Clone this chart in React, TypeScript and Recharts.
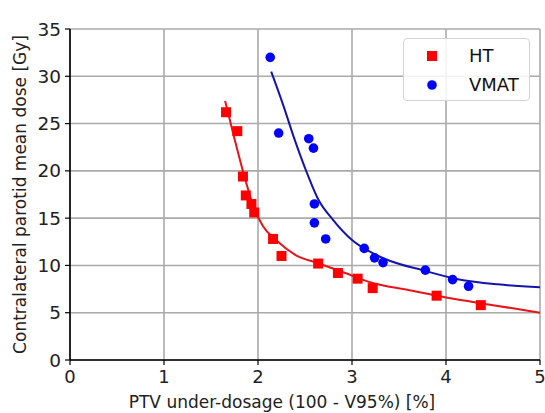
import { ComposedChart, Scatter, Line, XAxis, YAxis, CartesianGrid, Legend } from "recharts";

// measured points
const htX = [1.66, 1.78, 1.84, 1.87, 1.93, 1.96, 2.16, 2.25, 2.64, 2.85, 3.06, 3.22, 3.9, 4.37];
const htY = [26.2, 24.2, 19.4, 17.4, 16.5, 15.6, 12.8, 11.0, 10.2, 9.2, 8.6, 7.6, 6.8, 5.8];
const vmatX = [2.13, 2.22, 2.54, 2.59, 2.6, 2.6, 2.72, 3.13, 3.24, 3.33, 3.78, 4.07, 4.24];
const vmatY = [32.0, 24.0, 23.4, 22.4, 16.5, 14.5, 12.8, 11.8, 10.8, 10.3, 9.5, 8.5, 7.8];

// fitted curves
const htFitX = [1.65, 1.75, 1.85, 1.95, 2.05, 2.2, 2.4, 2.65, 2.9, 3.2, 3.6, 4.0, 4.5, 5.0];
const htFitY = [27.4, 23.4, 19.6, 16.3, 14.2, 12.6, 11.1, 10.2, 9.3, 8.2, 7.4, 6.6, 5.8, 5.0];
const vmatFitX = [2.14, 2.27, 2.39, 2.52, 2.64, 2.8, 3.0, 3.2, 3.4, 3.75, 4.1, 4.55, 5.0];
const vmatFitY = [30.5, 26.9, 23.3, 19.8, 17.0, 14.8, 12.7, 11.4, 10.5, 9.5, 8.6, 8.0, 7.7];

const xTicks = [0, 1, 2, 3, 4, 5];
const yTicks = [0, 5, 10, 15, 20, 25, 30, 35];
const xMinor = [0.2, 0.4, 0.6, 0.8, 1.2, 1.4, 1.6, 1.8, 2.2, 2.4, 2.6, 2.8, 3.2, 3.4, 3.6, 3.8, 4.2, 4.4, 4.6, 4.8];
const yMinor = [1, 2, 3, 4, 6, 7, 8, 9, 11, 12, 13, 14, 16, 17, 18, 19, 21, 22, 23, 24, 26, 27, 28, 29, 31, 32, 33, 34];

const zip = (xs: number[], ys: number[]) => xs.map((x, i) => ({ x, y: ys[i] }));
const htData = zip(htX, htY);
const vmatData = zip(vmatX, vmatY);
const htFit = zip(htFitX, htFitY);
const vmatFit = zip(vmatFitX, vmatFitY);

const FONT = "DejaVu Sans";

const Square = (p: any) => <rect x={p.cx - 5} y={p.cy - 5} width={10} height={10} fill="#ff0000" />;
const Dot = (p: any) => <circle cx={p.cx} cy={p.cy} r={4.8} fill="#0000ff" />;
const NoLabel = () => <g />;

const renderLegend = (props: any) => {
  const items = (props.payload || []).filter((e: any) => e.value === "HT" || e.value === "VMAT");
  return (
    <div
      style={{
        width: 127,
        height: 63,
        boxSizing: "border-box",
        border: "1px solid #d4d4d4",
        borderRadius: 4,
        background: "rgba(255,255,255,0.85)",
        fontFamily: FONT,
        fontSize: 18,
        color: "#111",
        paddingTop: 2,
      }}
    >
      {items.map((e: any) => (
        <div key={e.value} style={{ display: "flex", alignItems: "center", height: 29 }}>
          <svg width={65} height={29}>
            {e.value === "HT" ? (
              <rect x={23} y={10} width={10} height={10} fill="#ff0000" />
            ) : (
              <circle cx={28} cy={15} r={4.8} fill="#0000ff" />
            )}
          </svg>
          <span>{e.value}</span>
        </div>
      ))}
    </div>
  );
};

export default function App() {
  return (
    <div style={{ position: "absolute", left: 0, top: 0, background: "#fff" }}>
      <ComposedChart
        width={545}
        height={413}
        margin={{ top: 29, right: 5, bottom: 0, left: 0 }}
        style={{ fontFamily: FONT }}
      >
        <CartesianGrid stroke="#aaaaaa" strokeWidth={1.6} />
        <XAxis
          xAxisId="minor"
          type="number"
          domain={[0, 5]}
          ticks={xMinor}
          mirror
          axisLine={false}
          tick={NoLabel}
          tickSize={3}
          tickLine={{ stroke: "#cfcfcf" }}
        />
        <YAxis
          yAxisId="minor"
          type="number"
          domain={[0, 35]}
          ticks={yMinor}
          mirror
          axisLine={false}
          tick={NoLabel}
          tickSize={3}
          tickLine={{ stroke: "#cfcfcf" }}
        />
        <XAxis
          dataKey="x"
          type="number"
          domain={[0, 5]}
          ticks={xTicks}
          height={53}
          tickSize={5}
          tickMargin={5}
          axisLine={{ stroke: "#000", strokeWidth: 1.6 }}
          tickLine={{ stroke: "#000", strokeWidth: 1.2 }}
          tick={{ fontSize: 18, fill: "#222" }}
          label={{
            value: "PTV under-dosage (100 - V95%) [%]",
            position: "insideBottom",
            offset: 5,
            dx: -23,
            fontSize: 17,
            fill: "#222",
          }}
        />
        <YAxis
          dataKey="y"
          type="number"
          domain={[0, 35]}
          ticks={yTicks}
          width={70}
          tickSize={5}
          tickMargin={4}
          axisLine={{ stroke: "#000", strokeWidth: 1.6 }}
          tickLine={{ stroke: "#000", strokeWidth: 1.2 }}
          tick={{ fontSize: 18.5, fill: "#222" }}
          label={{
            value: "Contralateral parotid mean dose [Gy]",
            angle: -90,
            position: "insideLeft",
            offset: 20,
            fontSize: 17,
            fill: "#222",
            style: { textAnchor: "middle" },
          }}
        />
        <Scatter name="HT" data={htData} fill="#ff0000" shape={Square} isAnimationActive={false} />
        <Scatter name="VMAT" data={vmatData} fill="#0000ff" shape={Dot} isAnimationActive={false} />
        <Line
          data={htFit}
          dataKey="y"
          type="monotone"
          stroke="#e8141a"
          strokeWidth={2}
          dot={false}
          legendType="none"
          isAnimationActive={false}
        />
        <Line
          data={vmatFit}
          dataKey="y"
          type="monotone"
          stroke="#1414a8"
          strokeWidth={2}
          dot={false}
          legendType="none"
          isAnimationActive={false}
        />
        <Legend
          layout="vertical"
          align="center"
          verticalAlign="middle"
          content={renderLegend}
          wrapperStyle={{ left: 403, top: 38, width: 127, height: 63 }}
        />
      </ComposedChart>
    </div>
  );
}
